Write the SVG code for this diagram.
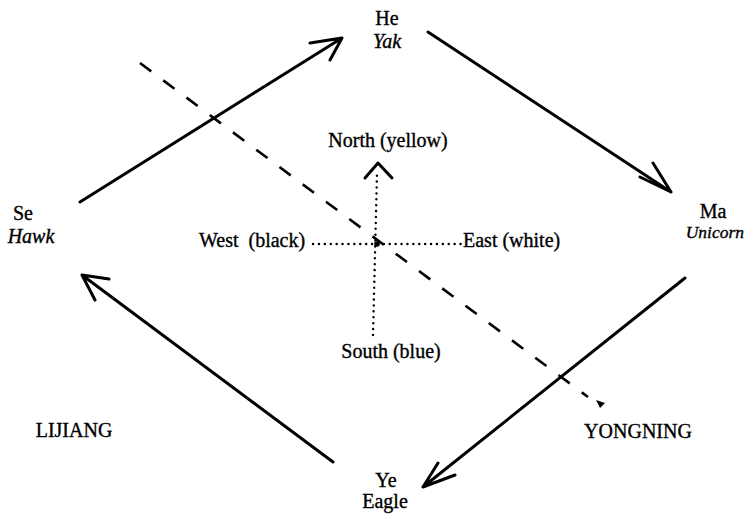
<svg xmlns="http://www.w3.org/2000/svg" width="748" height="515" viewBox="0 0 748 515">
<style>
text{font-family:"Liberation Serif","Times New Roman",serif;font-size:20px;fill:#000;stroke:#000;stroke-width:0.35}
.it{font-style:italic}
.arr{fill:none;stroke:#000;stroke-width:3;stroke-linecap:round;stroke-linejoin:round}
.dash{fill:none;stroke:#000;stroke-width:2.6;stroke-dasharray:14 15}
.dot{fill:none;stroke:#000;stroke-width:2.4;stroke-linecap:round;stroke-dasharray:0.1 5.8}
</style>
<rect width="748" height="515" fill="#fff"/>
<g id="he"><text x="387" y="25" text-anchor="middle">He</text><text class="it" x="387" y="48" text-anchor="middle">Yak</text></g>
<g id="se"><text x="23" y="220" text-anchor="middle">Se</text><text class="it" x="31" y="243" text-anchor="middle">Hawk</text></g>
<g id="ma"><text x="713" y="218" text-anchor="middle">Ma</text><text class="it" x="744" y="238" text-anchor="end" style="font-size:17.5px">Unicorn</text></g>
<g id="ye"><text x="386" y="487" text-anchor="middle">Ye</text><text x="385" y="508" text-anchor="middle">Eagle</text></g>
<g id="north"><text x="388" y="147" text-anchor="middle">North (yellow)</text></g>
<g id="south"><text x="391" y="358" text-anchor="middle">South (blue)</text></g>
<g id="west"><text x="199" y="247" xml:space="preserve">West  (black)</text></g>
<g id="east"><text x="463" y="247">East (white)</text></g>
<g id="lijiang"><text x="74" y="437" text-anchor="middle">LIJIANG</text></g>
<g id="yongning"><text x="638" y="438" text-anchor="middle">YONGNING</text></g>
<g id="connectors">
<path class="arr" d="M80,202 L342,38 M310,43 L342,38 L330,60"/>
<path class="arr" d="M428,32 L671,192 M653,163 L671,192 L640,177"/>
<path class="arr" d="M685,278 L423,487 M455,475 L423,487 L438,463"/>
<path class="arr" d="M333,462 L82,275 M109,279 L82,275 L95,300"/>
<path class="dash" d="M140,63 L588,397"/>
<path d="M596,400 L605,403 L600,408 Z" fill="#000"/>
<path class="dot" d="M373,335 L377,172"/>
<path class="arr" d="M365,178 L378,163 L392,178"/>
<path class="dot" d="M313,244 L464,244"/>
<circle cx="377" cy="244" r="2.8" fill="#000"/>
</g>
</svg>
